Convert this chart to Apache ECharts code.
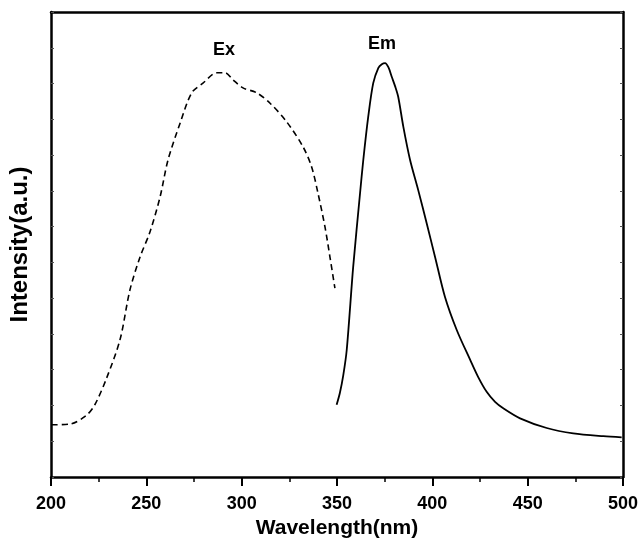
<!DOCTYPE html>
<html>
<head>
<meta charset="utf-8">
<script src="https://cdn.jsdelivr.net/npm/echarts@6/dist/echarts.min.js"></script>
<style>
  html, body { margin: 0; padding: 0; background: #fff; }
  #chart { width: 643px; height: 545px; }
</style>
</head>
<body>
<div id="chart"></div>
<script>
// Excitation spectrum (wavelength nm, intensity a.u.)
const exWavelength = [200.4, 210, 218.7, 223, 229.2, 236.2, 241.4, 246.7, 251.9, 257.2, 261.4, 267.7, 273.8, 279.7, 286.9, 291.3, 295.5, 300.7, 307.9, 314.9, 323.6, 332.2, 336.7, 340, 343.7, 346.3, 348.9];
const exIntensity = [14.6, 14.8, 17.3, 20.2, 27.7, 38.4, 52.3, 61.5, 68.5, 78.3, 88.7, 98.9, 107.4, 110.1, 113.0, 113.0, 111.0, 108.8, 107.4, 104.5, 99.3, 92.3, 86.7, 79.4, 69.9, 61.5, 52.8];

// Emission spectrum
const emWavelength = [349.8, 351.5, 353.3, 355.1, 358.5, 362.1, 363.8, 366.4, 369.0, 371.7, 373.5, 375.2, 377.0, 378.7, 380.5, 382.1, 384.8, 388.3, 392.6, 397.0, 401.4, 406.6, 412.8, 419.8, 424.0, 428.5, 432.9, 437.2, 446.0, 460.0, 473.9, 489.7, 499.3];
const emIntensity = [20.2, 23.5, 28.5, 35.5, 58.8, 79.4, 88.7, 100.8, 110.1, 114.4, 115.4, 115.7, 114.5, 111.9, 109.2, 106.3, 97.9, 88.7, 80.2, 71.0, 61.6, 50.4, 41.1, 32.8, 28.0, 23.8, 21.0, 19.2, 16.4, 13.7, 12.2, 11.4, 11.1];

// Curve annotations
const curveLabels = ['Ex', 'Em'];
const labelAnchors = [[290.7, 119.3], [373.6, 121.0]];

const xTicks = { min: 200, max: 500, interval: 50 };
const yRange = { min: 0, max: 130, interval: 10 };

const pair = (xs, ys) => xs.map((x, i) => [x, ys[i]]);
const fontFamily = '"Liberation Sans", Arial, sans-serif';

const chart = echarts.init(document.getElementById('chart'), null, { renderer: 'canvas' });

const frameLine = { show: true, onZero: false, lineStyle: { color: '#000', width: 2.5 } };

chart.setOption({
  animation: false,
  backgroundColor: '#fff',
  grid: { left: 51, right: 20, top: 12, bottom: 68, containLabel: false },
  xAxis: [
    {
      type: 'value',
      position: 'bottom',
      min: xTicks.min, max: xTicks.max, interval: xTicks.interval,
      name: 'Wavelength(nm)',
      nameLocation: 'middle',
      nameGap: 35,
      nameTextStyle: { fontFamily, fontWeight: 'bold', fontSize: 21, color: '#000' },
      axisLine: frameLine,
      axisTick: { show: true, inside: false, length: 9, lineStyle: { color: '#000', width: 2 } },
      minorTick: { show: true, splitNumber: 2, length: 5, lineStyle: { color: '#000', width: 1.5 } },
      axisLabel: { fontFamily, fontWeight: 'bold', fontSize: 18, color: '#000', margin: 18 },
      splitLine: { show: false }
    },
    {
      type: 'value',
      position: 'top',
      min: xTicks.min, max: xTicks.max, interval: xTicks.interval,
      axisLine: frameLine,
      axisTick: { show: false },
      axisLabel: { show: false },
      splitLine: { show: false }
    }
  ],
  yAxis: [
    {
      type: 'value',
      position: 'left',
      min: yRange.min, max: yRange.max, interval: yRange.interval,
      name: 'Intensity(a.u.)',
      nameLocation: 'middle',
      nameGap: 19,
      nameTextStyle: { fontFamily, fontWeight: 'bold', fontSize: 24, color: '#000' },
      axisLine: frameLine,
      axisTick: { show: true, inside: true, length: 3, lineStyle: { color: '#555', width: 1 } },
      axisLabel: { show: false },
      splitLine: { show: false }
    },
    {
      type: 'value',
      position: 'right',
      min: yRange.min, max: yRange.max, interval: yRange.interval,
      axisLine: frameLine,
      axisTick: { show: true, inside: true, length: 3, lineStyle: { color: '#555', width: 1 } },
      axisLabel: { show: false },
      splitLine: { show: false }
    }
  ],
  series: [
    {
      name: curveLabels[0],
      type: 'line',
      data: pair(exWavelength, exIntensity),
      smooth: 0.3,
      showSymbol: false,
      lineStyle: { color: '#000', width: 1.6, type: [6, 4] },
      markPoint: {
        symbol: 'circle', symbolSize: 0,
        label: { show: true, position: 'inside', formatter: curveLabels[0], fontFamily, fontWeight: 'bold', fontSize: 18, color: '#000' },
        data: [{ coord: labelAnchors[0] }]
      }
    },
    {
      name: curveLabels[1],
      type: 'line',
      data: pair(emWavelength, emIntensity),
      smooth: 0.3,
      showSymbol: false,
      lineStyle: { color: '#000', width: 1.8 },
      markPoint: {
        symbol: 'circle', symbolSize: 0,
        label: { show: true, position: 'inside', formatter: curveLabels[1], fontFamily, fontWeight: 'bold', fontSize: 18, color: '#000' },
        data: [{ coord: labelAnchors[1] }]
      }
    }
  ]
});
</script>
</body>
</html>
